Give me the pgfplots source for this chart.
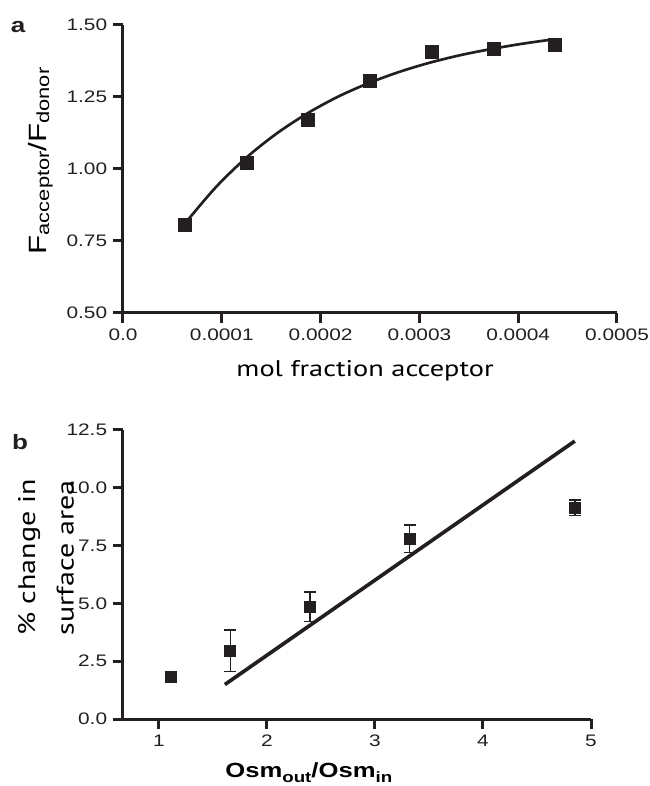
\documentclass[border=0pt]{standalone}
\usepackage{fontspec}
\setmainfont{Liberation Sans}[FakeStretch=1.25]
\newfontfamily\myriad{PT Sans}[FakeStretch=1.25]
\usepackage{pgfplots}
\pgfplotsset{compat=1.18}
\definecolor{ink}{HTML}{231F20}
\pgfplotsset{
  gp/.style={
    scale only axis,
    axis lines=left,
    axis line style={line width=1.8pt, -, color=ink},
    every tick/.style={line width=1.8pt, color=ink},
    tick align=outside,
    major tick length=6pt,
    ticklabel style={font=\fontsize{10}{12}\selectfont, color=ink},
    /pgf/number format/assume math mode=true,
    clip=false,
  }
}
\begin{document}
\begin{tikzpicture}
\path[use as bounding box] (0,0) rectangle (390pt,471.6pt);
% panel a
\begin{axis}[gp,
  at={(73.8pt,283.8pt)}, anchor=south west,
  width=296.4pt, height=172.8pt,
  xmin=0, xmax=0.0005, ymin=0.5, ymax=1.5,
  scaled x ticks=false,
  xtick={0,0.0001,0.0002,0.0003,0.0004,0.0005},
  xticklabels={0.0,0.0001,0.0002,0.0003,0.0004,0.0005},
  ytick={0.5,0.75,1,1.25,1.5},
  yticklabels={0.50,0.75,1.00,1.25,1.50},
  xlabel={\myriad\fontsize{13.6}{15}\selectfont mol fraction acceptor},
  xlabel style={at={(axis description cs:0.49,-0.222)}, anchor=base},
  ylabel={\fontsize{15}{16}\selectfont F\raisebox{-1.5pt}{\fontsize{10.5}{12}\selectfont acceptor}/F\raisebox{-1.5pt}{\fontsize{10.5}{12}\selectfont donor}},
  ylabel style={at={(axis description cs:-0.1545,0.528)}, anchor=base, rotate=0},
]
\addplot[ink, line width=1.6pt, smooth] coordinates {
(0.0000625,0.810) (0.00009375,0.936) (0.000125,1.040) (0.00015625,1.125)
(0.0001875,1.195) (0.00021875,1.253) (0.00025,1.300) (0.00028125,1.339)
(0.0003125,1.371) (0.00034375,1.397) (0.000375,1.418) (0.00040625,1.436)
(0.0004375,1.451)};
\addplot[only marks, mark=square*, mark size=3.9pt, color=ink] coordinates {
(0.0000625,0.805) (0.000125,1.02) (0.0001875,1.17) (0.00025,1.305)
(0.0003125,1.408) (0.000375,1.417) (0.0004375,1.43)};
\end{axis}
% panel b
\begin{axis}[gp,
  at={(73.8pt,40.2pt)}, anchor=south west,
  width=280.8pt, height=173.4pt,
  xmin=0.667, xmax=5, ymin=0, ymax=12.5,
  xtick={1,2,3,4,5},
  xticklabels={1,2,3,4,5},
  ytick={0,2.5,5,7.5,10,12.5},
  yticklabels={0.0,2.5,5.0,7.5,10.0,12.5},
  xlabel={\fontsize{12.3}{14}\selectfont\bfseries Osm\raisebox{-2.5pt}{\fontsize{9}{10}\selectfont out}/Osm\raisebox{-2.5pt}{\fontsize{9}{10}\selectfont in}},
  xlabel style={at={(axis description cs:0.397,-0.204)}, anchor=base},
  ylabel={\myriad\fontsize{14.4}{23}\selectfont\begin{tabular}{@{}l@{}}\% change in\\surface area\end{tabular}},
  ylabel style={at={(axis description cs:-0.163,0.56)}, anchor=center},
]
\addplot[ink, line width=2.2pt] coordinates {(1.61,1.49) (4.85,12.02)};
\addplot[only marks, mark=square*, mark size=3.3pt, color=ink,
  error bars/.cd, y dir=both, y explicit,
  error mark options={rotate=90, mark size=3.6pt, line width=0.9pt, color=ink},
  error bar style={line width=0.9pt, color=ink}] coordinates {
(1.11,1.82) +- (0,0)
(1.66,2.96) +- (0,0.9)
(2.40,4.86) +- (0,0.64)
(3.32,7.80) +- (0,0.6)
(4.85,9.14) +- (0,0.33)};
\end{axis}
\node[font=\fontsize{12.5}{14}\selectfont\bfseries, text=ink] at (10.8pt,455.4pt) {a};
\node[font=\fontsize{12.5}{14}\selectfont\bfseries, text=ink] at (12pt,206.6pt) {b};
\end{tikzpicture}
\end{document}
